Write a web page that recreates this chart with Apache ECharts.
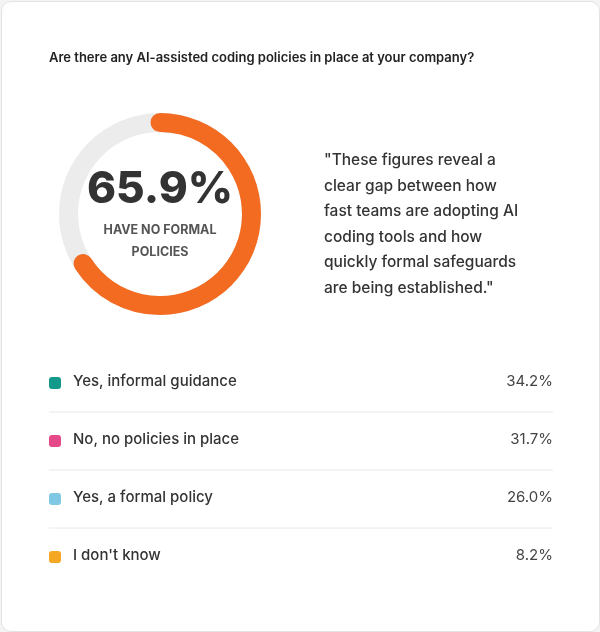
<!DOCTYPE html>
<html lang="en" style="height: 100%">
<head>
  <meta charset="utf-8">
</head>
<body style="height: 100%; margin: 0; background: #f4f4f4">
  <div id="container" style="position:absolute; left:1px; top:1px; width:597px; height:629px; background:#fff; border:1px solid #e3e3e3; border-radius:10px; overflow:hidden"></div>
  <script type="text/javascript" src="https://fastly.jsdelivr.net/npm/echarts@6/dist/echarts.min.js"></script>
  <script type="text/javascript">
    var title = 'Are there any AI-assisted coding policies in place at your company?';
    var headlineValue = 65.9;
    var headlineLabel = 'HAVE NO FORMAL\nPOLICIES';
    var quote = '"These figures reveal a\nclear gap between how\nfast teams are adopting AI\ncoding tools and how\nquickly formal safeguards\nare being established."';
    var categories = ['Yes, informal guidance', 'No, no policies in place', 'Yes, a formal policy', "I don't know"];
    var values = [34.2, 31.7, 26.0, 8.2];
    var colors = ['#12998a', '#e6498a', '#7ec8e3', '#f5a623'];

    var font = 'Inter, "Noto Sans", sans-serif';
    var myChart = echarts.init(document.getElementById('container'));

    var graphics = [
      { type: 'text', left: 47, top: 50, style: { text: title, font: '600 13px ' + font, fill: '#222' } },
      { type: 'text', left: 322, top: 146, style: { text: quote, font: '500 15.5px ' + font, fill: '#333', lineHeight: 25.5 } }
    ];
    categories.forEach(function (c, i) {
      var y = 381 + i * 58;
      graphics.push({ type: 'rect', shape: { x: 47, y: y - 6, width: 12, height: 12, r: 3 }, style: { fill: colors[i] } });
      graphics.push({ type: 'text', left: 71, top: y - 9, style: { text: c, font: '500 15px ' + font, fill: '#333' } });
      graphics.push({ type: 'text', right: 46, top: y - 9, style: { text: values[i].toFixed(1) + '%', font: '400 15px ' + font, fill: '#444' } });
      if (i < categories.length - 1) {
        graphics.push({ type: 'line', shape: { x1: 47, y1: y + 29, x2: 551, y2: y + 29 }, style: { stroke: '#e8e8e8', lineWidth: 1 } });
      }
    });

    var option = {
      graphic: graphics,
      series: [{
        type: 'gauge',
        center: [158, 212],
        radius: 101,
        startAngle: 90,
        endAngle: -270,
        min: 0,
        max: 100,
        pointer: { show: false },
        progress: { show: true, roundCap: true, width: 19, itemStyle: { color: '#f26b21' } },
        axisLine: { lineStyle: { width: 19, color: [[1, '#ececec']] } },
        axisTick: { show: false },
        splitLine: { show: false },
        axisLabel: { show: false },
        title: { show: true, offsetCenter: [0, 27], fontSize: 12.5, fontWeight: 700, color: '#555', fontFamily: font, lineHeight: 22 },
        detail: { offsetCenter: [0, -24], fontSize: 44, fontWeight: 800, color: '#333', fontFamily: font, formatter: '{value}%' },
        data: [{ value: headlineValue, name: headlineLabel }]
      }]
    };
    myChart.setOption(option);
    window.addEventListener('resize', myChart.resize);
  </script>
</body>
</html>
